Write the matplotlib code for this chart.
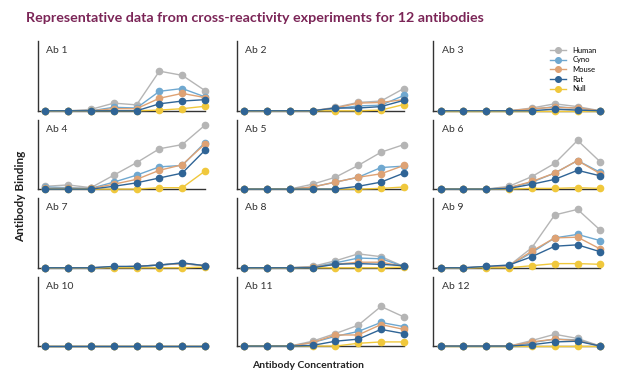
import matplotlib.pyplot as plt
import numpy as np

# Antibody Binding, as fraction of panel height, 8 concentrations per antibody
antibodies = ["Ab 1", "Ab 2", "Ab 3", "Ab 4", "Ab 5", "Ab 6",
              "Ab 7", "Ab 8", "Ab 9", "Ab 10", "Ab 11", "Ab 12"]
conc = list(range(8))

human = [
    [0, 0, 0.02, 0.11, 0.085, 0.57, 0.51, 0.29],
    [0, 0, 0, 0, 0.05, 0.12, 0.14, 0.32],
    [0, 0, 0, 0, 0.04, 0.10, 0.06, 0],
    [0.04, 0.06, 0.02, 0.20, 0.38, 0.58, 0.64, 0.92],
    [0, 0, 0, 0.07, 0.17, 0.34, 0.53, 0.64],
    [0, 0, 0, 0.04, 0.18, 0.37, 0.70, 0.39],
    [0, 0, 0, 0.01, 0.02, 0.04, 0.07, 0.03],
    [0, 0, 0, 0.02, 0.10, 0.20, 0.16, 0.02],
    [0, 0, 0.02, 0.03, 0.29, 0.76, 0.84, 0.54],
    [0, 0, 0, 0, 0, 0, 0, 0],
    [0, 0, 0, 0.07, 0.18, 0.30, 0.57, 0.42],
    [0, 0, 0, 0, 0.08, 0.17, 0.11, 0],
]
cyno = [
    [0, 0, 0, 0.05, 0.04, 0.28, 0.32, 0.20],
    [0, 0, 0, 0, 0.03, 0.07, 0.08, 0.22],
    [0, 0, 0, 0, 0.02, 0.06, 0.035, 0],
    [0.03, 0.02, 0.01, 0.10, 0.20, 0.32, 0.34, 0.67],
    [0, 0, 0, 0.03, 0.10, 0.17, 0.31, 0.33],
    [0, 0, 0, 0.02, 0.10, 0.23, 0.41, 0.24],
    [0, 0, 0, 0.01, 0.02, 0.04, 0.06, 0.03],
    [0, 0, 0, 0.01, 0.07, 0.14, 0.13, 0.02],
    [0, 0, 0.01, 0.03, 0.22, 0.43, 0.48, 0.39],
    [0, 0, 0, 0, 0, 0, 0, 0],
    [0, 0, 0, 0.05, 0.14, 0.21, 0.34, 0.28],
    [0, 0, 0, 0, 0.05, 0.10, 0.09, 0],
]
mouse = [
    [0, 0, 0, 0.03, 0.03, 0.18, 0.25, 0.19],
    [0, 0, 0, 0, 0.04, 0.11, 0.12, 0.16],
    [0, 0, 0, 0, 0.03, 0.05, 0.04, 0],
    [0.01, 0.01, 0.01, 0.07, 0.14, 0.27, 0.35, 0.65],
    [0, 0, 0, 0.03, 0.10, 0.17, 0.22, 0.34],
    [0, 0, 0, 0.02, 0.11, 0.23, 0.41, 0.22],
    [0, 0, 0, 0.01, 0.02, 0.04, 0.06, 0.03],
    [0, 0, 0, 0.01, 0.05, 0.08, 0.08, 0.02],
    [0, 0, 0.01, 0.03, 0.24, 0.43, 0.44, 0.27],
    [0, 0, 0, 0, 0, 0, 0, 0],
    [0, 0, 0, 0.05, 0.16, 0.16, 0.31, 0.24],
    [0, 0, 0, 0, 0.06, 0.10, 0.08, 0],
]
rat = [
    [0, 0, 0, 0, 0, 0.10, 0.14, 0.16],
    [0, 0, 0, 0, 0.04, 0.04, 0.06, 0.15],
    [0, 0, 0, 0, 0, 0.025, 0.01, 0],
    [0, 0, 0, 0.04, 0.09, 0.16, 0.23, 0.56],
    [0, 0, 0, 0, 0, 0.04, 0.10, 0.23],
    [0, 0, 0, 0.01, 0.07, 0.14, 0.27, 0.19],
    [0, 0, 0, 0.02, 0.02, 0.04, 0.07, 0.03],
    [0, 0, 0, 0, 0.05, 0.06, 0.05, 0.03],
    [0, 0, 0.02, 0.04, 0.16, 0.31, 0.33, 0.23],
    [0, 0, 0, 0, 0, 0, 0, 0],
    [0, 0, 0, 0.01, 0.07, 0.10, 0.24, 0.18],
    [0, 0, 0, 0, 0.02, 0.06, 0.07, 0],
]
null = [
    [0, 0, 0, 0, 0, 0.01, 0.03, 0.065],
    [0, 0, 0, 0, 0, 0, 0.01, 0.09],
    [0, 0, 0, 0, 0, 0, 0, 0],
    [0, 0, 0, 0, 0, 0.02, 0.02, 0.26],
    [0, 0, 0, 0, 0, 0, 0.01, 0.03],
    [0, 0, 0, 0, 0.01, 0.01, 0.02, 0.01],
    [0, 0, 0, 0, 0, 0, 0, 0.01],
    [0, 0, 0, 0, 0, 0, 0, 0.01],
    [0, 0, 0, 0, 0.03, 0.06, 0.06, 0.05],
    [0, 0, 0, 0, 0, 0, 0, 0],
    [0, 0, 0, 0, 0, 0.04, 0.06, 0.06],
    [0, 0, 0, 0, 0, 0, 0, 0],
]

series = [("Human", human, "#b5b5b5"),
          ("Cyno", cyno, "#6fa8d0"),
          ("Mouse", mouse, "#dea274"),
          ("Null", null, "#f0c83c"),
          ("Rat", rat, "#2f6496")]
legend_order = ["Human", "Cyno", "Mouse", "Rat", "Null"]

plt.rcParams['font.family'] = ['Lato', 'DejaVu Sans']

fig = plt.figure(figsize=(6.28, 3.82), dpi=100)

lefts = [0.0605, 0.377, 0.690]
bottoms = [0.710, 0.505, 0.299, 0.094]
w, h = 0.266, 0.182

handles = {}
for i, ab in enumerate(antibodies):
    r, c = divmod(i, 3)
    ax = fig.add_axes([lefts[c], bottoms[r], w, h])
    for name, vals, col in series:
        ln, = ax.plot(conc, vals[i], color=col, lw=1.0, marker="o", ms=4.5,
                      clip_on=False, zorder=3)
        handles[name] = ln
    ax.set_xlim(-0.32, 7.0)
    ax.set_ylim(0, 1)
    ax.set_xticks([])
    ax.set_yticks([])
    for s in ["top", "right"]:
        ax.spines[s].set_visible(False)
    for s in ["left", "bottom"]:
        ax.spines[s].set_color("#333333")
        ax.spines[s].set_linewidth(1.0)
    ax.text(0.05, 0.86, ab, transform=ax.transAxes, fontsize=7.5,
            color="#333333", va="center", ha="left")
    if i == 2:
        ax.legend([handles[n] for n in legend_order], legend_order,
                  loc="upper right", bbox_to_anchor=(1.02, 1.02),
                  fontsize=5.5, frameon=False, handlelength=2.2,
                  labelspacing=0.35, markerscale=0.9)

fig.text(0.406, 0.953, "Representative data from cross-reactivity experiments for 12 antibodies",
         ha="center", va="center", fontsize=10.3, fontweight="bold", color="#7b2557")
fig.text(0.49, 0.042, "Antibody Concentration", ha="center", va="center",
         fontsize=7.5, fontweight="bold", color="#222222")
fig.text(0.032, 0.485, "Antibody Binding", ha="center", va="center",
         rotation=90, fontsize=8.5, fontweight="bold", color="#222222")

fig.savefig("out.png", dpi=100)
